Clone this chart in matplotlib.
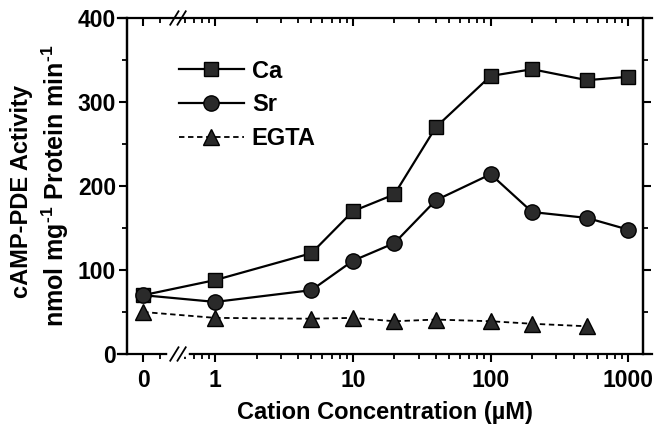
import numpy as np
import matplotlib
matplotlib.use("Agg")
import matplotlib.pyplot as plt
from matplotlib.ticker import FixedLocator, MultipleLocator, NullFormatter

plt.rcParams['font.family'] = ['Liberation Sans', 'DejaVu Sans']
plt.rcParams['font.weight'] = 'bold'
plt.rcParams['mathtext.fontset'] = 'custom'
plt.rcParams['mathtext.rm'] = 'Liberation Sans:bold'
plt.rcParams['mathtext.bf'] = 'Liberation Sans:bold'
plt.rcParams['mathtext.default'] = 'bf'

# ---- data ----
conc = [0, 1, 5, 10, 20, 40, 100, 200, 500, 1000]
ca = [70, 88, 120, 170, 190, 270, 331, 339, 326, 330]
sr = [70, 62, 76, 111, 132, 183, 214, 169, 162, 148]
conc_egta = [0, 1, 5, 10, 20, 40, 100, 200, 500]
egta = [50, 43, 42, 43, 39, 41, 39, 36, 33]
xtick_vals = [0, 1, 10, 100, 1000]
xtick_labels = ['0', '1', '10', '100', '1000']
ytick_vals = [0, 100, 200, 300, 400]

# broken axis scale: log for x>=1, compressed segment for the "0" point
def fwd(x):
    x = np.asarray(x, dtype=float)
    with np.errstate(all='ignore'):
        a = np.log10(np.maximum(x, 1e-300))
        b = np.log10(np.maximum(0.3 + 0.7 * x, 1e-300))
    return np.where(x >= 1, a, b)

def inv(u):
    u = np.asarray(u, dtype=float)
    with np.errstate(all='ignore'):
        return np.where(u >= 0, 10.0 ** u, (10.0 ** u - 0.3) / 0.7)

W, H = 658, 429
fig = plt.figure(figsize=(W / 100, H / 100), dpi=100)
L, R, B, T = 127, 643, 354, 18
ax = fig.add_axes([L / W, 1 - B / H, (R - L) / W, (B - T) / H])

ax.set_xscale('function', functions=(fwd, inv))
xlim = (float(inv(-0.64)), float(inv(3.106)))
ax.set_xlim(*xlim)
ax.set_ylim(0, 400)

mfc = '#2a2a2a'
ax.plot(conc, ca, '-', color='black', lw=1.6, marker='s', ms=10,
        mfc=mfc, mec='black', label='Ca', zorder=3)
ax.plot(conc, sr, '-', color='black', lw=1.6, marker='o', ms=11,
        mfc=mfc, mec='black', label='Sr', zorder=3)
ax.plot(conc_egta, egta, '--', color='black', lw=1.3, dashes=(3, 2),
        marker='^', ms=11, mfc=mfc, mec='black', label='EGTA', zorder=3)

# ticks
minor_x = [float(inv(np.log10(v))) for v in [0.4, 0.6, 0.7, 0.8, 0.9]]
minor_x += [m * d for d in (1, 10, 100) for m in range(2, 10)]
ax.xaxis.set_major_locator(FixedLocator(xtick_vals))
ax.set_xticklabels(xtick_labels)
ax.xaxis.set_minor_locator(FixedLocator(minor_x))
ax.xaxis.set_minor_formatter(NullFormatter())
ax.yaxis.set_major_locator(FixedLocator(ytick_vals))
ax.yaxis.set_minor_locator(MultipleLocator(50))

ax.tick_params(axis='both', which='major', labelsize=16.5, width=1.5, length=6, direction='out')
ax.tick_params(axis='both', which='minor', width=1.3, length=3.5, direction='out')
ax.tick_params(axis='y', right=True, which='both')
ax.tick_params(axis='y', which='major', pad=2)
ax.tick_params(axis='x', which='major', pad=5)
for lab in ax.get_xticklabels() + ax.get_yticklabels():
    lab.set_fontweight('bold')

# top axis with inward ticks
axt = ax.twiny()
axt.set_xscale('function', functions=(fwd, inv))
axt.set_xlim(*xlim)
axt.xaxis.set_major_locator(FixedLocator(xtick_vals))
axt.xaxis.set_minor_locator(FixedLocator(minor_x))
axt.tick_params(axis='x', which='major', direction='in', length=6, width=1.5, labeltop=False)
axt.tick_params(axis='x', which='minor', direction='in', length=3.5, width=1.3)
axt.xaxis.set_major_formatter(NullFormatter())
axt.xaxis.set_minor_formatter(NullFormatter())

for a in (ax, axt):
    for s in a.spines.values():
        s.set_linewidth(1.6)
ext = (float(inv(-0.705)), float(inv(3.17)))
ax.spines['bottom'].set_bounds(*ext)
axt.spines['top'].set_bounds(*ext)
ax.spines['top'].set_visible(False)
axt.spines['bottom'].set_visible(False)

# break marks
bx = (178 - L) / (R - L)
for yy in (0.0, 1.0):
    ax.plot([bx - 0.016, bx + 0.016], [yy, yy], color='white', lw=4,
            transform=ax.transAxes, clip_on=False, zorder=5)
    for off in (-0.007, 0.007):
        ax.plot([bx + off - 0.008, bx + off + 0.008], [yy - 0.02, yy + 0.02],
                color='black', lw=1.3, transform=ax.transAxes, clip_on=False, zorder=6)

ax.set_xlabel('Cation Concentration (µM)', fontsize=17, fontweight='bold', labelpad=6)
fig.text(22 / W, 1 - 192 / H, 'cAMP-PDE Activity', rotation=90, ha='center',
         va='center', fontsize=17, fontweight='bold')
fig.text(55 / W, 1 - 186 / H, 'nmol mg$^{\u2010 1}$ Protein min$^{\u2010 1}$', rotation=90,
         ha='center', va='center', fontsize=18, fontweight='bold')

leg = ax.legend(loc='upper left', bbox_to_anchor=(0.1, 0.876), frameon=False,
                fontsize=17, handlelength=2.75, handletextpad=0.35, labelspacing=0.45,
                borderpad=0, borderaxespad=0, numpoints=1)
for t in leg.get_texts():
    t.set_fontweight('bold')

fig.savefig('out.png', dpi=100)
